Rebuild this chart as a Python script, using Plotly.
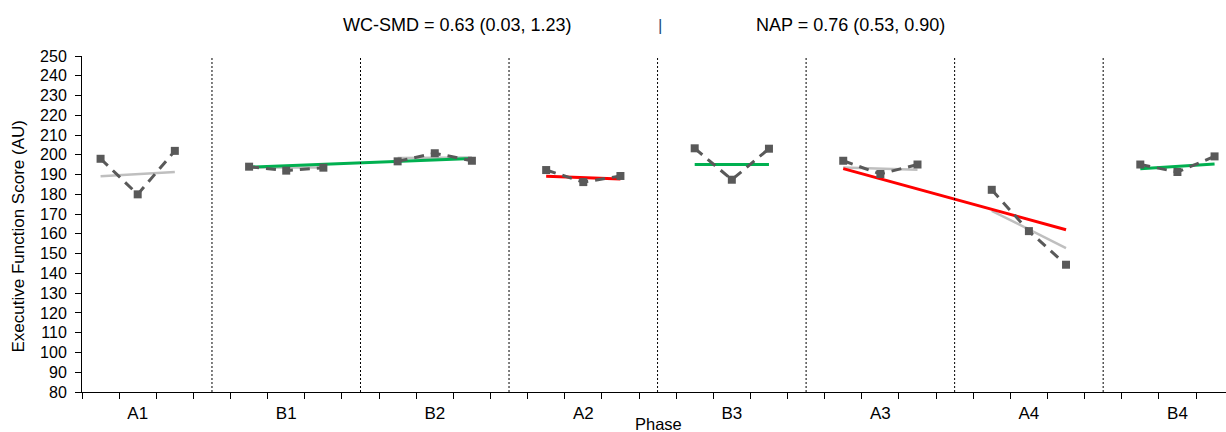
import plotly.graph_objects as go

# Phases in session order (three sessions per phase)
phases = ["A1", "B1", "B2", "A2", "B3", "A3", "A4", "B4"]

# Executive function scores per phase
a1_scores = [198, 180, 202]
b1_scores = [194, 192, 193.5]
b2_scores = [196.7, 200.8, 197]
a2_scores = [192.3, 186.2, 189.3]
b3_scores = [203.3, 187.4, 203.1]
a3_scores = [197, 190.3, 195.1]
a4_scores = [182.3, 161.4, 144.4]
b4_scores = [195.1, 191.3, 199.2]
phase_scores = [a1_scores, b1_scores, b2_scores, a2_scores,
                b3_scores, a3_scores, a4_scores, b4_scores]

# Within-phase trend lines (start, end)
grey_trend_phases = ["A1", "B1", "B2", "A3", "A4"]
grey_trend_values = [[189.1, 191.3], [193.6, 193.6], [198.4, 198.7],
                     [193.6, 192.4], [171.7, 152.8]]

# Trend lines across phase groups: (first phase, last phase), (start, end), colour
group_trend_phases = [("B1", "B2"), ("A2", "A2"), ("B3", "B3"), ("A3", "A4"), ("B4", "B4")]
group_trend_values = [[193.8, 198.2], [189.2, 187.8], [195.1, 195.1],
                      [193.0, 162.1], [193.0, 195.3]]
group_trend_colours = ["#00B050", "#FF0000", "#00B050", "#FF0000", "#00B050"]

title_left = "WC-SMD = 0.63 (0.03, 1.23)"
title_right = "NAP = 0.76 (0.53, 0.90)"

SESSIONS = 3
SLOT = SESSIONS + 1  # one empty slot between phases holds the divider


def session_x(phase_idx):
    start = phase_idx * SLOT
    return [start + k + 0.5 for k in range(SESSIONS)]


FONT = "Liberation Sans, Arial, sans-serif"
fig = go.Figure()

# grey per-phase trends
for name, vals in zip(grey_trend_phases, grey_trend_values):
    xs = session_x(phases.index(name))
    fig.add_trace(go.Scatter(x=[xs[0], xs[-1]], y=vals, mode="lines",
                             line=dict(color="#BFBFBF", width=2.5),
                             showlegend=False, hoverinfo="skip"))

# coloured trends
for (p0, p1), vals, col in zip(group_trend_phases, group_trend_values, group_trend_colours):
    x0 = session_x(phases.index(p0))[0]
    x1 = session_x(phases.index(p1))[-1]
    fig.add_trace(go.Scatter(x=[x0, x1], y=vals, mode="lines",
                             line=dict(color=col, width=3),
                             showlegend=False, hoverinfo="skip"))

# observed scores, dashed line broken between phases
for i, vals in enumerate(phase_scores):
    fig.add_trace(go.Scatter(x=session_x(i), y=vals, mode="lines+markers",
                             line=dict(color="#595959", width=3, dash="10px,7px"),
                             marker=dict(symbol="square", size=8, color="#595959"),
                             showlegend=False))

# phase change dividers
shapes = []
for i in range(len(phases) - 1):
    xd = i * SLOT + SESSIONS + 0.5
    shapes.append(dict(type="line", xref="x", yref="y", x0=xd, x1=xd, y0=80, y1=250,
                       line=dict(color="black", width=1, dash="2px,2px")))

n_slots = len(phases) * SLOT - 1
label_pos = [session_x(i)[1] for i in range(len(phases))]

fig.update_layout(
    width=1226, height=432,
    margin=dict(l=82, r=0, t=56, b=40),
    paper_bgcolor="white", plot_bgcolor="white",
    font=dict(family=FONT, color="black"),
    shapes=shapes,
    xaxis=dict(
        range=[0, 30.808],
        tickmode="array", tickvals=label_pos, ticktext=phases, ticks="",
        tickfont=dict(size=17), ticklabelstandoff=6,
        minor=dict(tickmode="array", tickvals=list(range(n_slots + 1)),
                   ticks="outside", ticklen=6, tickcolor="black", tickwidth=1,
                   showgrid=False),
        showline=True, linecolor="black", linewidth=1,
        showgrid=False, zeroline=False,
    ),
    yaxis=dict(
        range=[80, 250], tickmode="linear", tick0=80, dtick=10,
        ticks="outside", ticklen=6, tickcolor="black",
        tickfont=dict(size=16), ticklabelstandoff=5,
        showline=True, linecolor="black", linewidth=1,
        showgrid=False, zeroline=False,
    ),
    annotations=[
        dict(text="Executive Function Score (AU)", xref="paper", yref="paper",
             x=0, y=0.4628, xanchor="center", yanchor="middle", xshift=-64,
             textangle=-90, showarrow=False, font=dict(size=17)),
        dict(text="Phase", xref="paper", yref="paper", x=0, y=0,
             xanchor="center", yanchor="middle", xshift=658 - 82, yshift=-32,
             showarrow=False, font=dict(size=16.5)),
        dict(text=title_left, xref="paper", yref="paper", x=0, y=1,
             xanchor="center", yanchor="middle", xshift=457 - 82, yshift=31,
             showarrow=False, font=dict(size=18)),
        dict(text="|", xref="paper", yref="paper", x=0, y=1,
             xanchor="center", yanchor="middle", xshift=660 - 82, yshift=31,
             showarrow=False, font=dict(size=17, color="#1F4E79")),
        dict(text=title_right, xref="paper", yref="paper", x=0, y=1,
             xanchor="center", yanchor="middle", xshift=850 - 82, yshift=31,
             showarrow=False, font=dict(size=18)),
    ],
)

fig.write_html("out.html")
